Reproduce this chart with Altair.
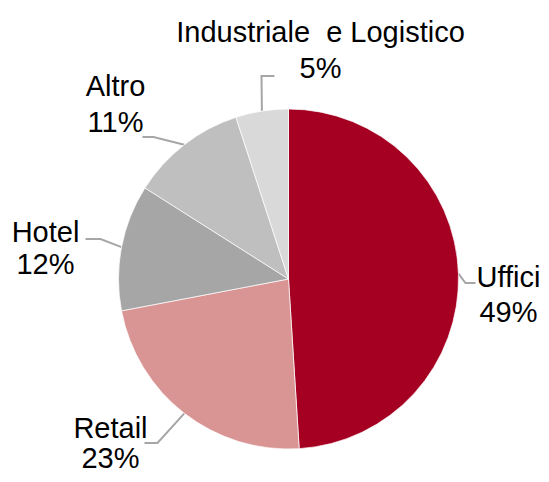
import numpy as np
import pandas as pd
import altair as alt

# ---- data ----
categories = ["Uffici", "Retail", "Hotel", "Altro", "Industriale\u00a0 e Logistico"]
shares = [49, 23, 12, 11, 5]
pct_labels = ["49%", "23%", "12%", "11%", "5%"]
colors = ["#A50021", "#D99594", "#A6A6A6", "#BFBFBF", "#D9D9D9"]

# ---- layout (pixels, relative to pie centre; y grows downward) ----
W, H = 533, 466
CX, CY = 280.5, 271
R = 170
label_x = [220, -178, -243, -173, 32]
label_base = [(8, 43), (159, 189), (-37, -5), (-183, -147), (-237, -201)]
elbow = [(177, 4), (-131, 164), (-188, -40), (-135, -142), (-27, -203)]
leader_end = [(187, 4), (-144, 164), (-203, -40), (-146, -142), (-14, -203)]

pie_df = pd.DataFrame({"category": categories, "value": shares, "order": range(len(shares))})

# leader lines: start on the rim at mid-angle of each slice
cum = np.cumsum([0] + shares)
mid = (cum[:-1] + cum[1:]) / 2 / cum[-1] * 2 * np.pi
rows = []
for i, c in enumerate(categories):
    sx, sy = R * np.sin(mid[i]), -R * np.cos(mid[i])
    rows.append({"category": c, "step": 0, "x": sx, "y": sy})
    rows.append({"category": c, "step": 1, "x": elbow[i][0], "y": elbow[i][1]})
    rows.append({"category": c, "step": 2, "x": leader_end[i][0], "y": leader_end[i][1]})
lead_df = pd.DataFrame(rows)

trows = []
for i, c in enumerate(categories):
    trows.append({"text": c, "x": label_x[i], "y": label_base[i][0]})
    trows.append({"text": pct_labels[i], "x": label_x[i], "y": label_base[i][1]})
text_df = pd.DataFrame(trows)

xs = alt.Scale(domain=[-CX, W - CX])
ys = alt.Scale(domain=[-CY, H - CY], reverse=True)

pie = alt.Chart(pie_df).mark_arc(outerRadius=R, stroke="white", strokeWidth=0.7).encode(
    theta=alt.Theta("value:Q", stack=True),
    order=alt.Order("order:Q"),
    color=alt.Color("category:N", scale=alt.Scale(domain=categories, range=colors), legend=None),
    x=alt.value(CX),
    y=alt.value(CY),
)

leaders = alt.Chart(lead_df).mark_line(color="#A6A6A6", strokeWidth=2).encode(
    x=alt.X("x:Q", scale=xs, axis=None),
    y=alt.Y("y:Q", scale=ys, axis=None),
    detail="category:N",
    order="step:Q",
)

labels = alt.Chart(text_df).mark_text(
    font="Liberation Sans", fontSize=29, color="#000000", align="center", baseline="alphabetic"
).encode(
    x=alt.X("x:Q", scale=xs, axis=None),
    y=alt.Y("y:Q", scale=ys, axis=None),
    text="text:N",
)

chart = alt.layer(leaders, pie, labels).properties(
    width=W, height=H, autosize=alt.AutoSizeParams(type="none"), padding=0
).configure_view(stroke=None).resolve_scale(x="shared", y="shared")

chart.save("out.html", embed_options={"renderer": "svg", "actions": False})
